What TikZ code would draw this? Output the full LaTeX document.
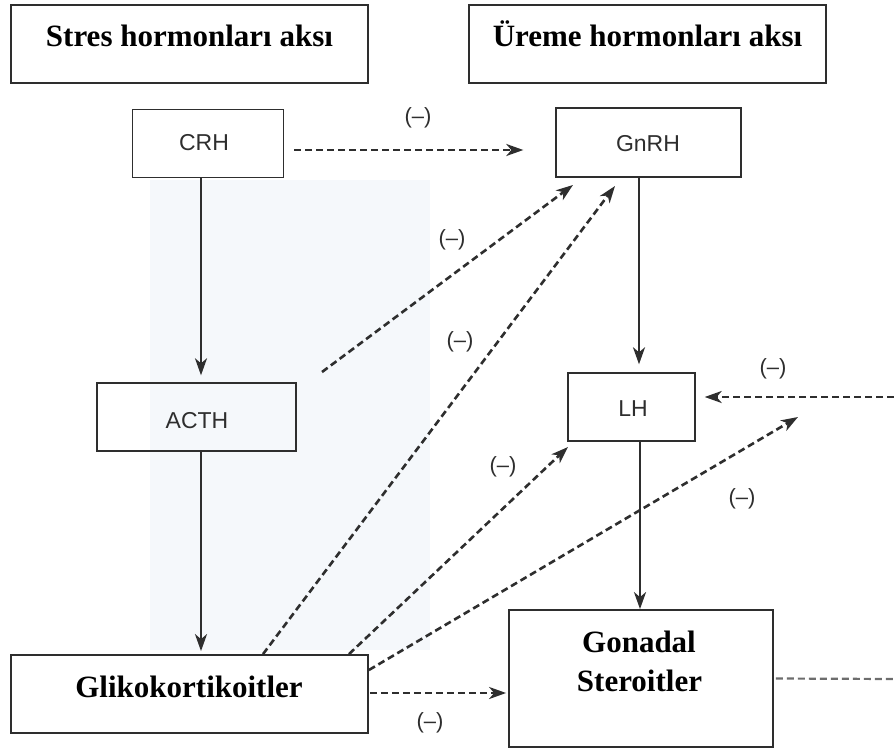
\documentclass[tikz,border=0pt]{standalone}
\usepackage{fontspec}
\setmainfont{Liberation Serif}
\newfontfamily\lsans{Liberation Sans}
\usetikzlibrary{arrows.meta}
\definecolor{ink}{HTML}{2E2E2E}
\definecolor{tint}{HTML}{F5F8FB}
\tikzset{
  bigbox/.style={draw=ink, line width=1.8pt, inner sep=0pt},
  smallbox/.style={draw=ink, line width=1.4pt, inner sep=0pt},
  titletext/.style={font=\bfseries\fontsize{31}{36}\selectfont, text=black, anchor=base, inner sep=0pt},
  hormtext/.style={font=\lsans\fontsize{23}{27}\selectfont, text=ink, anchor=base, inner sep=0pt},
  minus/.style={font=\lsans\fontsize{22}{26}\selectfont, text=ink, inner sep=0pt},
  solidarrow/.style={draw=ink, line width=2.4pt, -{Stealth[length=17pt,width=12pt,inset=5pt]}},
  dasharrow/.style={draw=ink, line width=2.6pt, dash pattern=on 7pt off 4pt, -{Stealth[length=17pt,width=12pt,inset=5pt]}},
  dashline/.style={draw=ink!70, line width=2.2pt, dash pattern=on 7pt off 4pt}
}
\begin{document}
\begin{tikzpicture}[x=1pt,y=-1pt]
\useasboundingbox (0,0) rectangle (894,749);
\fill[tint] (150,180) rectangle (430,650);
% title boxes
\node[bigbox, minimum width=357pt, minimum height=78pt] (stres) at (189.5,44) {};
\node[titletext] (stresT) at (189.5,47) {Stres hormonları aksı};
\node[bigbox, minimum width=357pt, minimum height=78pt] (ureme) at (647.5,44) {};
\node[titletext] (uremeT) at (647.5,47) {Üreme hormonları aksı};
% hormone boxes
\node[smallbox, minimum width=151pt, minimum height=68pt] (crh) at (208,143.5) {};
\node[hormtext] (crhT) at (204,150) {CRH};
\node[smallbox, minimum width=185pt, minimum height=69pt] (gnrh) at (648.5,142.5) {};
\node[hormtext] (gnrhT) at (648,151) {GnRH};
\node[smallbox, minimum width=199pt, minimum height=68pt] (acth) at (196.5,417) {};
\node[hormtext] (acthT) at (197,428) {ACTH};
\node[smallbox, minimum width=127pt, minimum height=68pt] (lh) at (631.5,407) {};
\node[hormtext] (lhT) at (633,416) {LH};
\node[bigbox, minimum width=357pt, minimum height=78pt] (glik) at (189.5,694) {};
\node[titletext] (glikT) at (189,697) {Glikokortikoitler};
\node[bigbox, minimum width=264pt, minimum height=137pt] (gon) at (641,678.5) {};
\node[titletext] (gonT1) at (639,652) {Gonadal};
\node[titletext] (gonT2) at (639.5,691) {Steroitler};
% solid arrows
\draw[solidarrow] ([xshift=-7pt]crh.south) -- ([xshift=4.5pt,yshift=7pt]acth.north);
\draw[solidarrow] ([xshift=4.5pt]acth.south) -- ([xshift=11.5pt,yshift=3pt]glik.north);
\draw[solidarrow] ([xshift=-9.5pt]gnrh.south) -- ([xshift=7.5pt,yshift=8pt]lh.north);
\draw[solidarrow] ([xshift=8.5pt]lh.south) -- ([xshift=-1pt]gon.north);
% free ends
\coordinate (free1) at (322,372);
\coordinate (free2) at (894,397);
\coordinate (free3) at (894,679);
\coordinate (t1) at (573,185);
\coordinate (t2) at (615,186);
\coordinate (t3) at (568,447);
\coordinate (t4) at (798,417);
% dashed arrows
\draw[dasharrow] ([xshift=10pt,yshift=-6.5pt]crh.east) -- ([xshift=-32pt,yshift=-7.5pt]gnrh.west);
\draw[dasharrow] (free1) -- (t1);
\draw[dasharrow] ([xshift=73.5pt]glik.north) -- (t2);
\draw[dasharrow] ([xshift=159.5pt]glik.north) -- (t3);
\draw[dasharrow] ([yshift=24pt]glik.east) -- (t4);
\draw[dasharrow] ([xshift=1pt,yshift=1pt]glik.east) -- ([xshift=-2pt,yshift=-14.5pt]gon.west);
\draw[dasharrow] (free2) -- ([xshift=9pt,yshift=10pt]lh.east);
\draw[dashline] ([xshift=2pt]gon.east) -- (free3);
% labels
\node[minus] (m1) at (418,118) {(–)};
\node[minus] (m2) at (452,240) {(–)};
\node[minus] (m3) at (460,342) {(–)};
\node[minus] (m4) at (503,467) {(–)};
\node[minus] (m5) at (773,369) {(–)};
\node[minus] (m6) at (742,499) {(–)};
\node[minus] (m7) at (430,723) {(–)};
\end{tikzpicture}
\end{document}
